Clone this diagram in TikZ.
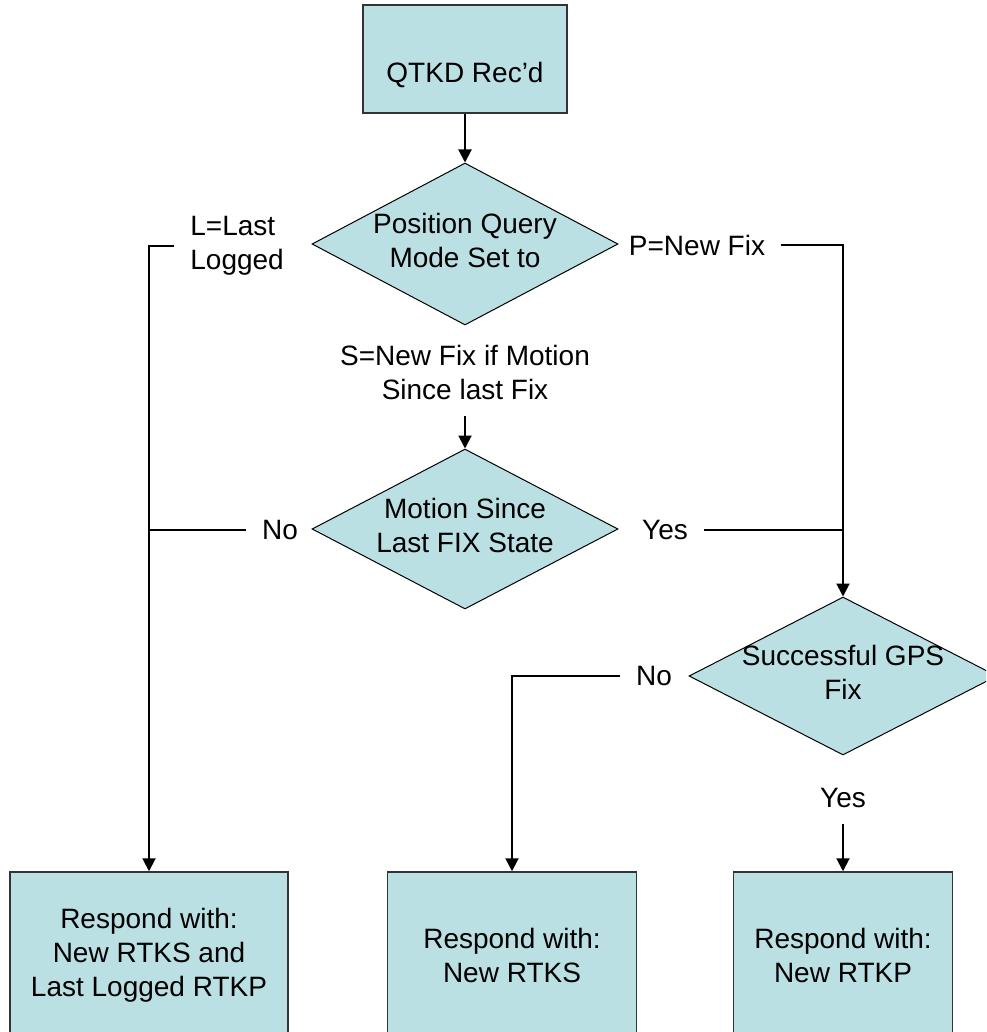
\documentclass[tikz,border=0pt]{standalone}
\usepackage{fontspec}
\setmainfont{Liberation Sans}
\usetikzlibrary{arrows.meta,
    shapes.geometric}
\definecolor{boxfill}{RGB}{187,224,227}
\newcommand{\dlines}[1]{\makebox[0pt]{\begin{tabular}{@{}c@{}}#1\end{tabular}}}

\begin{document}
\begin{tikzpicture}[x=0.5pt, y=-0.5pt,
    font=\fontsize{14}{17}\selectfont,
    box/.style={draw=black!80, line width=0.75pt, fill=boxfill, align=center},
    decision/.style={diamond, draw, line width=0.5pt, fill=boxfill, inner sep=0pt},
    lbl/.style={inner sep=8pt, align=center},
    conn/.style={line width=1pt},
    arr/.style={conn, -{Triangle[width=6.5pt,length=6.5pt]}}]
                  \useasboundingbox (0,0) rectangle (986,1032);
                  \clip (0,0) rectangle (986,1032);
                  \node[box, minimum width=102pt, minimum height=54pt, text height=24pt, text depth=0pt] (qtkd) at (465,59) {QTKD Rec’d};
                  \node[decision, minimum width=153pt, minimum height=81pt] (pos) at (465,244) {\dlines{Position Query\\Mode Set to}};
                  \node[decision, minimum width=153pt, minimum height=80pt] (motion) at (465,529) {\dlines{Motion Since\\Last FIX State}};
                  \node[decision, minimum width=154pt, minimum height=79pt] (gps) at (843,676) {\dlines{Successful GPS\\Fix}};
                  \node[box, minimum width=139pt, minimum height=83pt] (respls) at (149,955) {Respond with:\\New RTKS and\\Last Logged RTKP};
                  \node[box, minimum width=124.5pt, minimum height=83pt] (respks) at (512,955) {Respond with:\\New RTKS};
                  \node[box, minimum width=109.5pt, minimum height=83pt] (respkp) at (843,955) {Respond with:\\New RTKP};
                  \node[lbl, align=left, anchor=west] (lastlbl) at (174,246) {L=Last\\Logged};
                  \node[lbl] (newfix) at (697,245) {P=New Fix};
                  \node[lbl] (slbl) at (465,372) {S=New Fix if Motion\\Since last Fix};
                  \node[lbl] (nomot) at (280,530) {No};
                  \node[lbl] (yesmot) at (665,530) {Yes};
                  \node[lbl] (nogps) at (654,676) {No};
                  \node[lbl] (yesgps) at (843,798) {Yes};
                  \draw[arr] (qtkd.south) -- (pos.north);
                  \draw[arr] (lastlbl.west) -| (respls.north);
                  \draw[arr] (newfix.east) -| (gps.north);
                  \draw[arr] (slbl.south) -- (motion.north);
                  \draw[conn] (nomot.west) -- (nomot.west -| respls.north);
                  \draw[conn] (yesmot.east) -- (yesmot.east -| gps.north);
                  \draw[arr] (nogps.west) -| (respks.north);
                  \draw[arr] (yesgps.south) -- (respkp.north);
              \end{tikzpicture}
\end{document}
